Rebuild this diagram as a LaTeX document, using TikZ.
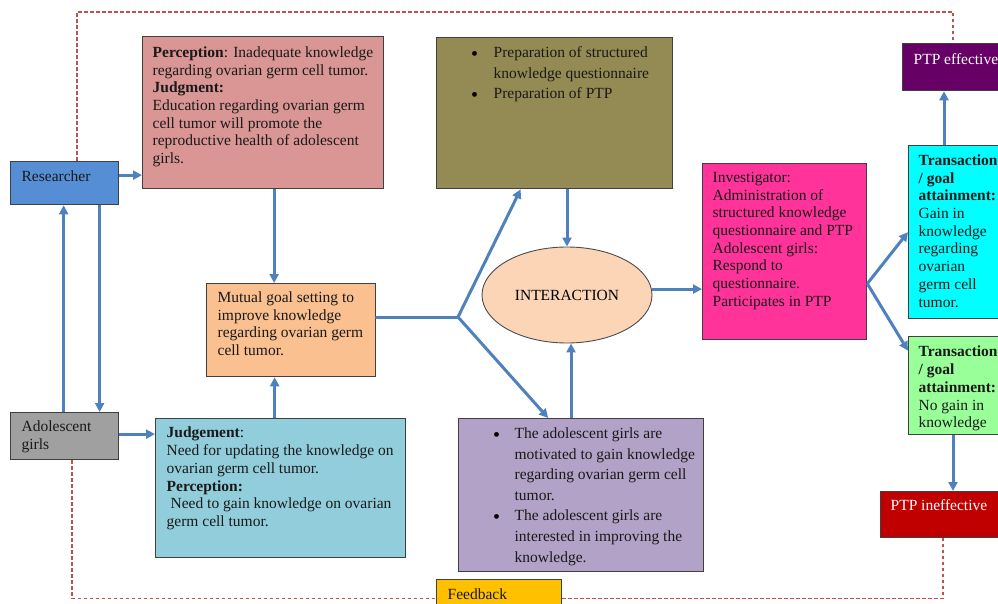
\documentclass[tikz,border=0pt]{standalone}
\usepackage{fontspec}
\setmainfont{Liberation Serif}
\usepackage{xcolor}
\usetikzlibrary{shapes.geometric, arrows.meta, positioning, calc}

\definecolor{researcherblue}{HTML}{558ED5}
\definecolor{girlsgray}{HTML}{A0A0A0}
\definecolor{pinkbox}{HTML}{D99694}
\definecolor{olivebox}{HTML}{948A54}
\definecolor{goalorange}{HTML}{FAC090}
\definecolor{judgeblue}{HTML}{92CDDC}
\definecolor{purplebox}{HTML}{B2A2C7}
\definecolor{interpeach}{HTML}{FBD5B5}
\definecolor{actionpink}{HTML}{FF3399}
\definecolor{attaincyan}{HTML}{00FFFF}
\definecolor{noattaingreen}{HTML}{99FF99}
\definecolor{effpurple}{HTML}{660066}
\definecolor{ineffred}{HTML}{C00000}
\definecolor{feedbackgold}{HTML}{FFC000}
\definecolor{linkblue}{HTML}{4F81BD}
\definecolor{dashred}{HTML}{C0504D}

\newcommand{\boxtext}[3]{\parbox[c][#2pt][t]{#1pt}{#3}}
\newcommand{\bulletfont}{\fontsize{15.5}{20.6}\selectfont}
\newcommand{\bul}{\hspace*{1.5pt}\raisebox{-2.5pt}{\fontsize{20}{20.6}\selectfont\textcolor{black}{\textbullet}}}

\begin{document}
\begin{tikzpicture}[x=1pt, y=-1pt,
    box/.style={rectangle, draw=black!75, line width=1.3pt, anchor=north west, inner xsep=10pt, inner ysep=9pt, font=\fontsize{15.5}{17.7}\selectfont, text=black!90},
    arrow/.style={-{Triangle[length=9pt,width=9pt]}, draw=linkblue, line width=3pt},
    link/.style={draw=linkblue, line width=3pt, line cap=round},
    feedback/.style={draw=dashred, line width=1.4pt, dash pattern=on 3.5pt off 2.5pt}
]
\useasboundingbox (0,0) rectangle (998,604);
\clip (0,0) rectangle (998,604);

% Actors
\node[box, fill=researcherblue, inner xsep=11pt, inner ysep=9.5pt] (researcher) at (10,161) {\boxtext{86}{24}{Researcher}};
\node[box, fill=girlsgray, inner xsep=11pt, inner ysep=8.5pt] (girls) at (10,412) {\boxtext{86}{30}{Adolescent\\girls}};

% Perception and judgement
\node[box, fill=pinkbox, inner ysep=10pt] (perception) at (142,36) {\boxtext{221}{132}{\textbf{Perception}: Inadequate knowledge\\regarding ovarian germ cell tumor.\\\textbf{Judgment:}\\Education regarding ovarian germ\\cell tumor will promote the\\reproductive health of adolescent\\girls.}};
\node[box, fill=judgeblue, inner xsep=11pt, inner ysep=8.5pt] (judgement) at (155,418) {\boxtext{228}{122}{\textbf{Judgement}:\\Need for updating the knowledge on\\ovarian germ cell tumor.\\\textbf{Perception:}\\\hspace*{4pt}Need to gain knowledge on ovarian\\germ cell tumor.}};
\node[box, fill=goalorange, inner xsep=11pt, inner ysep=8pt] (goal) at (206,283) {\boxtext{147}{77}{Mutual goal setting to\\improve knowledge\\regarding ovarian germ\\cell tumor.}};

% Action
\node[box, fill=olivebox, inner xsep=33pt, inner ysep=5.5pt] (preparation) at (436,37) {\boxtext{170}{140}{\bulletfont\begin{tabular}{@{}p{24pt}@{}l@{}}
\bul & Preparation of structured\\
 & knowledge questionnaire\\
\bul & Preparation of PTP
\end{tabular}}};
\node[box, fill=purplebox, inner xsep=33pt, inner ysep=5.5pt] (motivation) at (458,418) {\boxtext{179}{142}{\bulletfont\begin{tabular}{@{}p{23pt}@{}l@{}}
\bul & The adolescent girls are\\
 & motivated to gain knowledge\\
 & regarding ovarian germ cell\\
 & tumor.\\
\bul & The adolescent girls are\\
 & interested in improving the\\
 & knowledge.
\end{tabular}}};
\node[ellipse, draw=black!70, line width=0.9pt, fill=interpeach, minimum width=170pt, minimum height=96pt, inner sep=0pt, font=\fontsize{15.5}{17.7}\selectfont] (interaction) at (567,295) {INTERACTION};

% Transaction
\node[box, fill=actionpink, inner ysep=8.5pt] (action) at (702,163) {\boxtext{144}{159}{Investigator:\\Administration of\\structured knowledge\\questionnaire and PTP\\Adolescent girls:\\Respond to\\questionnaire.\\Participates in PTP}};
\node[box, fill=attaincyan, inner ysep=9pt] (attained) at (908,145) {\boxtext{100}{155}{\textbf{Transaction}\\\textbf{/ goal}\\\textbf{attainment:}\\Gain in\\knowledge\\regarding\\ovarian\\germ cell\\tumor.}};
\node[box, fill=noattaingreen, inner ysep=9.5pt] (notattained) at (908,336) {\boxtext{100}{79}{\textbf{Transaction}\\\textbf{/ goal}\\\textbf{attainment:}\\No gain in\\knowledge}};
\node[box, fill=effpurple, text=white, inner xsep=11pt, inner ysep=10pt] (effective) at (902,43) {\boxtext{100}{27}{PTP effective}};
\node[box, fill=ineffred, text=white, inner ysep=8pt] (ineffective) at (880,491) {\boxtext{120}{30}{PTP ineffective}};
\node[box, fill=feedbackgold, inner xsep=11pt, inner ysep=9pt] (feedback) at (436,579) {\boxtext{103}{20}{Feedback}};

% Arrows
\coordinate (fork) at (458,317);
\coordinate (split) at ([yshift=-32]action.east);

\draw[arrow] ([yshift=8]researcher.east) -- ([yshift=8]researcher.east -| perception.west);
\draw[arrow] ([xshift=11]perception.south) -- ([xshift=11]perception.south |- goal.north);
\draw[arrow] ([yshift=2]girls.east) -- ([yshift=2]girls.east -| judgement.west);
\draw[arrow] ([xshift=-6]judgement.north) -- ([xshift=-6]judgement.north |- goal.south);
\draw[arrow] ([xshift=-1]girls.north) -- ([xshift=-1]researcher.south);
\draw[arrow] ([xshift=35]researcher.south) -- ([xshift=35]girls.north);

\draw[link] (fork -| goal.east) -- (fork);
\draw[arrow] (fork) -- ([xshift=-34]preparation.south);
\draw[arrow] (fork) -- ([xshift=-33]motivation.north);
\draw[arrow] (interaction.north |- preparation.south) -- (interaction.north);
\draw[arrow] ([xshift=4]interaction.south |- motivation.north) -- ([xshift=4]interaction.south);
\draw[arrow] (interaction.4) -- (interaction.4 -| action.west);

\draw[arrow] (split) -- (attained.west);
\draw[arrow] (split) -- ([yshift=35]notattained.west);
\draw[arrow] ([xshift=36]attained.north west) -- ([xshift=36]attained.north west |- effective.south);
\draw[arrow] ([xshift=45]notattained.south west) -- ([xshift=45]notattained.south west |- ineffective.north);

% Feedback loop
\draw[feedback] ([xshift=67]researcher.north west) -- ++(0,-149) -| ([xshift=51]effective.north west);
\draw[feedback] ([xshift=62]girls.south west) |- (feedback.west);
\draw[feedback] (feedback.east) -| ([xshift=63]ineffective.south west);

\end{tikzpicture}
\end{document}
